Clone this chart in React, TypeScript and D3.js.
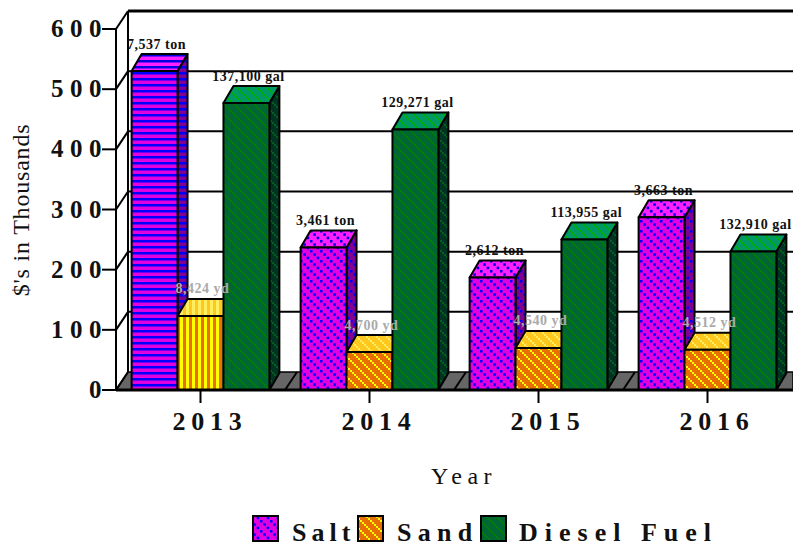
import React from "react";
import * as d3 from "d3";

const years = ["2013", "2014", "2015", "2016"];
const seriesNames = ["Salt", "Sand", "Diesel Fuel"];
const saltValues = [530, 237, 187, 287];
const sandValues = [123, 63, 70, 67];
const dieselValues = [477, 433, 250, 230];
const saltLabels = ["7,537 ton", "3,461 ton", "2,612 ton", "3,663 ton"];
const sandLabels = ["8,424 yd", "4,700 yd", "4,540 yd", "4,512 yd"];
const dieselLabels = ["137,100 gal", "129,271 gal", "113,955 gal", "132,910 gal"];
const yTicks = [0, 100, 200, 300, 400, 500, 600];

const seriesValues = [saltValues, sandValues, dieselValues];
const seriesLabels = [saltLabels, sandLabels, dieselLabels];

const left = 116;
const right = 792;
const base = 390;
const depthX = 12;
const depthY = 18;
const barDx = 10;
const barDy = 17;
const serif = "'Liberation Serif', 'Times New Roman', serif";

const x0 = d3.scaleBand<string>().domain(years).range([left, right]);
const x1 = d3
  .scaleBand<string>()
  .domain(seriesNames)
  .range([0, x0.bandwidth()])
  .paddingInner(0)
  .paddingOuter(0.34);
const y = d3.scaleLinear().domain([0, 600]).range([base, 29]);

const poly = d3.line();

const legendSwatchX = d3.scaleOrdinal<string, number>().domain(seriesNames).range([253, 358, 481]);
const legendTextX = d3.scaleOrdinal<string, number>().domain(seriesNames).range([292, 397, 519]);
const legendSpacing = d3.scaleOrdinal<string, number>().domain(seriesNames).range([5, 6.3, 7]);

const faces = {
  salt: { front: ["#e000e0", "#0000ff"], top: ["#ff20ff", "#0000e0"], side: ["#800090", "#0000ff"] },
  sand: { front: ["#e87000", "#ffff00"], top: ["#ffc81e", "#ffee60"], side: ["#a05000", "#ffc000"] },
  diesel: { front: ["#006633", "#008000"], top: ["#009966", "#00b000"], side: ["#003322", "#006020"] },
};

// salt uses separate blue squares, the other two an unbroken stair
const Diagonal = ({ id, colors, dotted }: { id: string; colors: string[]; dotted?: boolean }) => (
  <pattern id={id} width={10} height={10} patternUnits="userSpaceOnUse">
    <rect width={10} height={10} fill={colors[0]} />
    {(dotted ? [0, 3.33, 6.67] : [0, 2, 4, 6, 8]).map((d) => (
      <rect key={d} x={d} y={d} width={dotted ? 2.5 : 2} height={dotted ? 2.5 : 2} fill={colors[1]} />
    ))}
  </pattern>
);

const Stripes = ({ id, colors, vertical }: { id: string; colors: string[]; vertical?: boolean }) => (
  <pattern id={id} width={6} height={6} patternUnits="userSpaceOnUse">
    <rect width={6} height={6} fill={colors[0]} />
    <rect width={vertical ? 3 : 6} height={vertical ? 6 : 2.5} fill={colors[1]} />
  </pattern>
);

const fillFor = (key: string, face: string, yearIdx: number) => {
  const striped = yearIdx === 0 && key !== "diesel";
  return `url(#${striped ? "st" : "dg"}-${key}-${face})`;
};

const App = () => {
  const keys = ["salt", "sand", "diesel"] as const;
  return (
    <svg
      width={793}
      height={546}
      style={{ position: "absolute", left: 0, top: 0, background: "#fff" }}
      fontFamily={serif}
    >
      <defs>
        {keys.flatMap((k) =>
          (["front", "top", "side"] as const).flatMap((f) => [
            <Diagonal key={`dg-${k}-${f}`} id={`dg-${k}-${f}`} colors={faces[k][f]} dotted={k === "salt"} />,
            <Stripes
              key={`st-${k}-${f}`}
              id={`st-${k}-${f}`}
              colors={faces[k][f]}
              vertical={k === "sand"}
            />,
          ])
        )}
      </defs>

      {/* back wall and gridlines */}
      {yTicks.slice(1).map((t) => (
        <line
          key={t}
          x1={left + depthX}
          x2={793}
          y1={y(t) - depthY}
          y2={y(t) - depthY}
          stroke="#000"
          strokeWidth={t === 600 ? 3 : 2}
        />
      ))}
      <line x1={left + depthX} x2={left + depthX} y1={y(600) - depthY} y2={base - depthY} stroke="#000" strokeWidth={2} />

      {/* floor */}
      <path
        d={`M${left},${base}L${left + depthX},${base - depthY}L793,${base - depthY}L793,${base}Z`}
        fill="#666"
        stroke="#000"
        strokeWidth={1.5}
      />
      {years.slice(1).map((yr) => (
        <line
          key={yr}
          x1={x0(yr)!}
          x2={x0(yr)! + depthX}
          y1={base}
          y2={base - depthY}
          stroke="#000"
          strokeWidth={2}
        />
      ))}

      {/* left wall ticks */}
      {yTicks.map((t) => (
        <g key={t}>
          <line x1={left} x2={left + depthX} y1={y(t)} y2={y(t) - depthY} stroke="#000" strokeWidth={2} />
          <line x1={102} x2={left} y1={y(t)} y2={y(t)} stroke="#000" strokeWidth={2} />
          <text
            x={108}
            y={y(t) + 8}
            textAnchor="end"
            fontSize={25}
            fontWeight="bold"
            letterSpacing={6.5}
            fill="#111"
          >
            {t}
          </text>
        </g>
      ))}
      <line x1={left} x2={left} y1={y(600)} y2={base} stroke="#000" strokeWidth={2} />

      {/* bars */}
      {years.map((yr, i) =>
        seriesNames.map((name, s) => {
          const bx = x0(yr)! + x1(name)!;
          const w = x1.bandwidth();
          const top = y(seriesValues[s][i]);
          const k = keys[s];
          const stroke = { stroke: "#000", strokeWidth: 2, strokeLinejoin: "round" as const };
          return (
            <g key={yr + name}>
              <path
                d={poly([[bx + w, top], [bx + w + barDx, top - barDy], [bx + w + barDx, base - barDy], [bx + w, base]])! + "Z"}
                fill={fillFor(k, "side", i)}
                {...stroke}
              />
              <path
                d={poly([[bx, top], [bx + barDx, top - barDy], [bx + w + barDx, top - barDy], [bx + w, top]])! + "Z"}
                fill={fillFor(k, "top", i)}
                {...stroke}
              />
              <rect x={bx} y={top} width={w} height={base - top} fill={fillFor(k, "front", i)} {...stroke} />
            </g>
          );
        })
      )}

      {/* value labels above everything */}
      {years.map((yr, i) =>
        seriesNames.map((name, s) => (
          <text
            key={yr + name}
            x={x0(yr)! + x1(name)! + x1.bandwidth() / 2 + 2}
            y={y(seriesValues[s][i]) - barDy - 5.5}
            textAnchor="middle"
            fontSize={14}
            fontWeight="bold"
            letterSpacing={0.5}
            fill={s === 1 ? "#aaaaaa" : "#111"}
          >
            {seriesLabels[s][i]}
          </text>
        ))
      )}

      {/* x axis */}
      <line x1={left} x2={793} y1={base} y2={base} stroke="#000" strokeWidth={3} />
      {years.map((yr) => {
        const cx = x0(yr)! + x0.bandwidth() / 2;
        return (
          <g key={yr}>
            <line x1={cx} x2={cx} y1={base} y2={403} stroke="#000" strokeWidth={2} />
            <text x={cx + 9.5} y={430} textAnchor="middle" fontSize={26} fontWeight="bold" letterSpacing={5.7} fill="#111">
              {yr}
            </text>
          </g>
        );
      })}

      <text x={464} y={484} textAnchor="middle" fontSize={24} letterSpacing={5.5} fill="#111">
        Year
      </text>
      <text
        transform="translate(29,210) rotate(-90)"
        textAnchor="middle"
        fontSize={24}
        letterSpacing={0.8}
        fill="#111"
      >
        $'s in Thousands
      </text>

      {/* legend */}
      {seriesNames.map((name, s) => (
        <g key={name}>
          <rect
            x={legendSwatchX(name)}
            y={516}
            width={25}
            height={25}
            fill={`url(#dg-${keys[s]}-front)`}
            stroke="#000"
            strokeWidth={2}
          />
          <text
            x={legendTextX(name)}
            y={541}
            fontSize={26}
            fontWeight="bold"
            letterSpacing={legendSpacing(name)}
            fill="#111"
          >
            {name}
          </text>
        </g>
      ))}
    </svg>
  );
};

export default App;
